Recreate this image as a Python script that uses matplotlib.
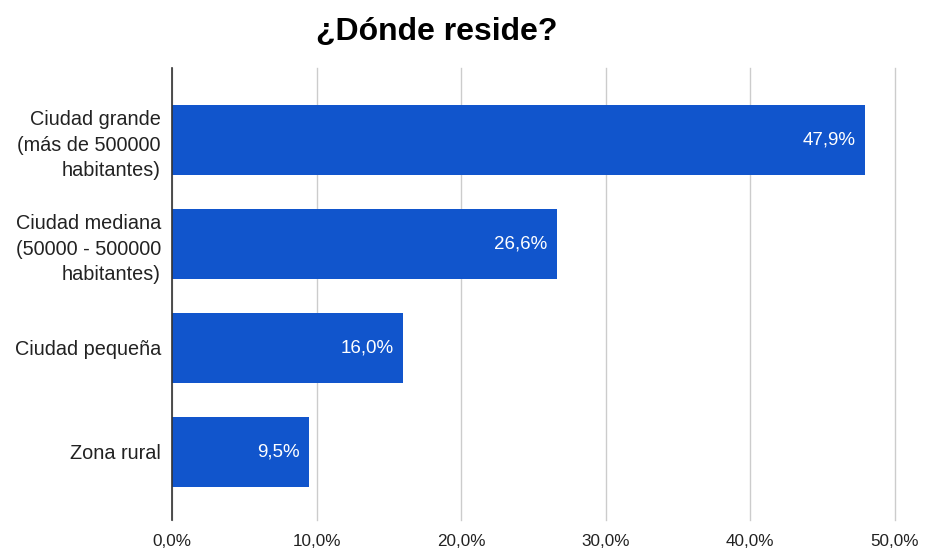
import matplotlib.pyplot as plt
import numpy as np

plt.rcParams["font.family"] = ["Liberation Sans", "DejaVu Sans"]

categorias = [
    "Ciudad grande\n(más de 500000\nhabitantes)",
    "Ciudad mediana\n(50000 - 500000\nhabitantes)",
    "Ciudad pequeña",
    "Zona rural",
]
porcentajes = [47.9, 26.6, 16.0, 9.5]
ticks_x = [0, 10, 20, 30, 40, 50]

azul = "#1155cc"

fig = plt.figure(figsize=(9.26, 5.52), dpi=100)
ax = fig.add_axes([0.1857, 0.058, 0.7808, 0.819])

pos = np.arange(len(categorias))
ax.barh(pos, porcentajes, height=0.673, color=azul, zorder=3)

# etiquetas de valor dentro de cada barra
for y, v in zip(pos, porcentajes):
    ax.text(
        v - 0.65, y, f"{v:.1f}%".replace(".", ","),
        ha="right", va="center", color="white", fontsize=13.5, zorder=4
    )

ax.set_xlim(0, 50)
ax.set_ylim(3.654, -0.692)
ax.set_xticks(ticks_x)
ax.set_xticklabels([f"{t:.1f}%".replace(".", ",") for t in ticks_x],
                   fontsize=12.3, color="#222222")
ax.set_yticks(pos)
ax.set_yticklabels(categorias, fontsize=14.3, color="#222222", linespacing=1.42)
ax.tick_params(axis="both", length=0)
ax.tick_params(axis="x", pad=10)
ax.tick_params(axis="y", pad=8)

ax.grid(True, axis="x", color="#cccccc", linewidth=1, zorder=0)
for linea in ax.get_xgridlines():
    linea.set_clip_on(False)
for lado in ["top", "right", "bottom"]:
    ax.spines[lado].set_visible(False)
ax.spines["left"].set_color("#333333")
ax.spines["left"].set_linewidth(1.2)
ax.spines["left"].set_zorder(5)

fig.text(0.472, 0.942, "¿Dónde reside?", ha="center", va="center",
         fontsize=23, fontweight="bold", color="#000000")

fig.savefig("out.png", dpi=100)
